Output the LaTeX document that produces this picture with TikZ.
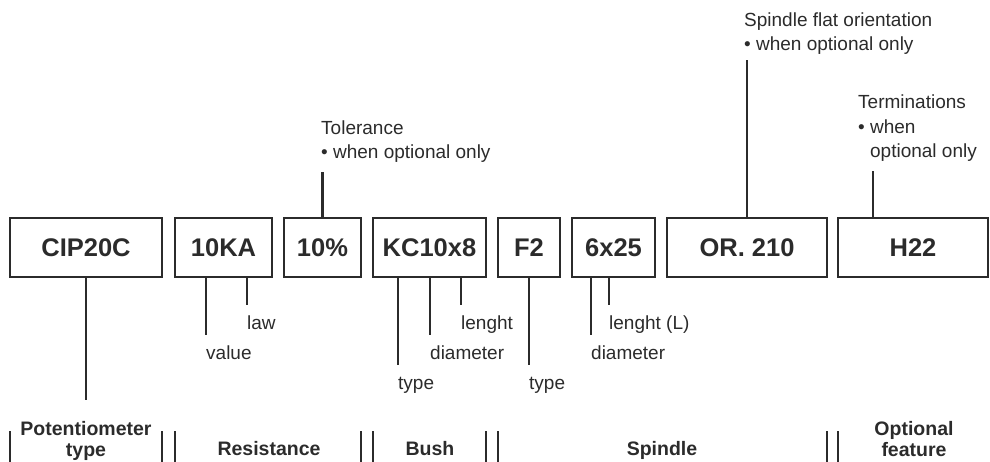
\documentclass[tikz,border=0pt]{standalone}
\usepackage{fontspec}
\setmainfont{Liberation Sans}
\usetikzlibrary{positioning}
\definecolor{ink}{HTML}{2B2B2B}

\begin{document}
\begin{tikzpicture}[x=1pt, y=-1pt, node distance=12pt, every node/.style={text=ink},
  box/.style={draw=ink, line width=2.8pt, outer sep=0pt, minimum height=59pt, inner sep=0pt, font=\fontsize{25.5}{30}\selectfont\bfseries},
  lbl/.style={anchor=north west, inner xsep=0pt, inner ysep=10pt, text height=14pt, text depth=4pt, font=\fontsize{19}{24}\selectfont},
  note/.style={anchor=south west, align=left, inner xsep=0pt, inner ysep=9pt, font=\fontsize{19}{24.5}\selectfont},
  group/.style={align=center, inner sep=0pt, font=\fontsize{19.5}{21}\selectfont\bfseries},
  wire/.style={draw=ink, line width=2.8pt},
  bar/.style={draw=ink, line width=2.6pt}]
\useasboundingbox (0,0) rectangle (990,462);
% code boxes
\node[box, minimum width=152pt] (cip) at (86,247.5) {CIP20C};
\node[box, minimum width=97pt, right=13pt of cip] (res) {10KA};
\node[box, minimum width=77pt, right=of res] (tol) {10\%};
\node[box, minimum width=113pt, right=of tol] (bush) {KC10x8};
\node[box, minimum width=62pt, right=of bush] (flat) {F2};
\node[box, minimum width=83pt, right=of flat] (spd) {6x25};
\node[box, minimum width=160pt, right=of spd] (ori) {OR. 210};
\node[box, minimum width=150pt, right=11pt of ori] (term) {H22};
% notes above
\node[note] (tollbl) at (321,172) {Tolerance\\• when optional only};
\node[note, inner ysep=5pt] (orilbl) at (744,60) {Spindle flat orientation\\• when optional only};
\node[note] (termlbl) at (858,171) {Terminations\\• when\\\hphantom{• }optional only};
\draw[wire] (tol.north) -- (tol.north |- tollbl.south);
\draw[wire] (ori.north) -- (ori.north |- orilbl.south);
\coordinate (termtap) at ([xshift=35pt]term.north west);
\draw[wire] (termtap) -- (termtap |- termlbl.south);
% labels below
\node[lbl] (value) at (206,335) {value};
\node[lbl] (law) at (247,305) {law};
\node[lbl] (btype) at (398,365) {type};
\node[lbl] (bdiam) at (430,335) {diameter};
\node[lbl] (blen) at (461,305) {lenght};
\node[lbl] (ftype) at (529,365) {type};
\node[lbl] (sdiam) at (591,335) {diameter};
\node[lbl] (slen) at (609,305) {lenght (L)};
\draw[wire] (res.south -| value.north west) -- (value.north west);
\draw[wire] (res.south -| law.north west) -- (law.north west);
\draw[wire] (bush.south -| btype.north west) -- (btype.north west);
\draw[wire] (bush.south -| bdiam.north west) -- (bdiam.north west);
\draw[wire] (bush.south -| blen.north west) -- (blen.north west);
\draw[wire] (flat.south -| ftype.north west) -- (ftype.north west);
\draw[wire] (spd.south -| sdiam.north west) -- (sdiam.north west);
\draw[wire] (spd.south -| slen.north west) -- (slen.north west);
% groups
\node[group, anchor=north] (ptype) at (86,421) {Potentiometer\\type};
\node[group, anchor=base] (resgrp) at (269,455) {Resistance};
\node[group, anchor=base] (bushgrp) at (430,455) {Bush};
\node[group, anchor=base] (spgrp) at (662,455) {Spindle};
\node[group, anchor=north] (optgrp) at (914,421) {Optional\\feature};
\draw[wire] (cip.south) -- ([yshift=21pt]ptype.north);
\coordinate (bartop) at (0,431);
\coordinate (barbot) at (0,464);
\foreach \n/\s in {cip/west, cip/east, res/west, tol/east, bush/west, bush/east, flat/west, ori/east, term/west}
  \draw[bar] (\n.\s |- bartop) -- (\n.\s |- barbot);
\end{tikzpicture}
\end{document}
